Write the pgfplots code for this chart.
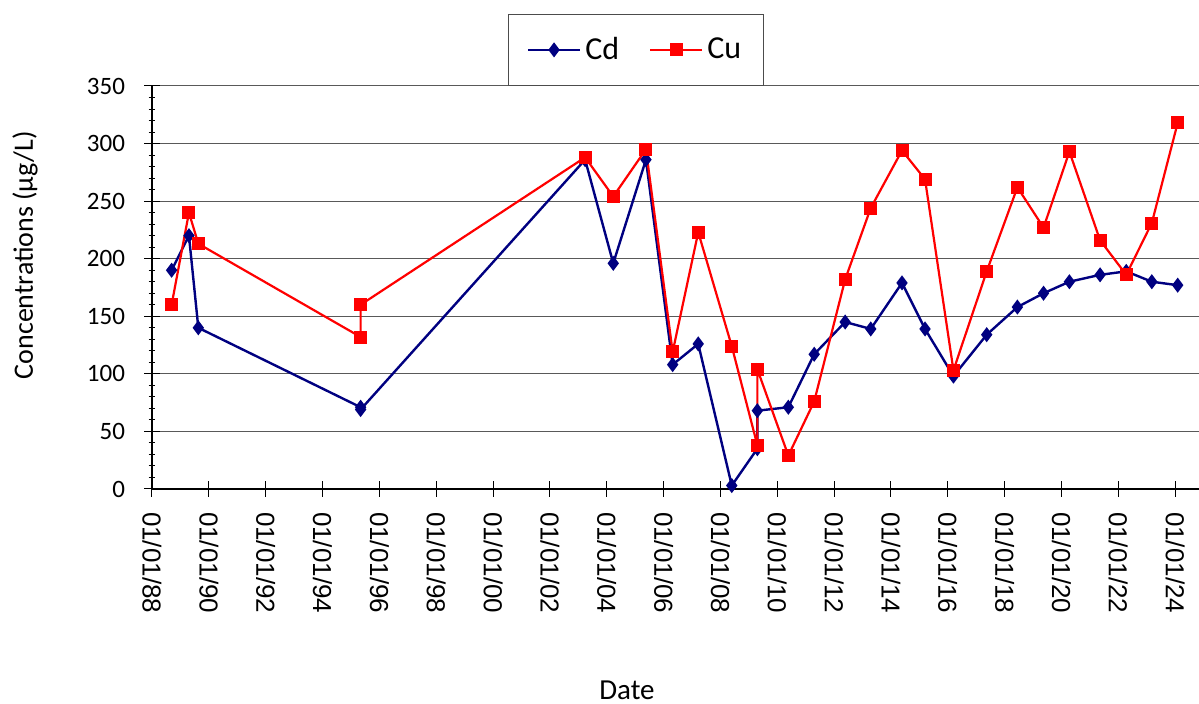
\documentclass[border=0pt]{standalone}
\usepackage{fontspec}
\setmainfont{Carlito}
\newfontfamily\arialfont{Liberation Sans}
\usepackage{pgfplots}
\pgfplotsset{compat=1.18}

\definecolor{cdblue}{RGB}{0,0,128}
\definecolor{cured}{RGB}{255,0,0}

\begin{document}
\begin{tikzpicture}
\path[use as bounding box] (0,0) rectangle (599.5pt,352pt);
\begin{axis}[
  at={(76pt,107.5pt)}, anchor=south west,
  width=523.5pt, height=201.5pt, scale only axis,
  xmin=1988, xmax=2024.84, ymin=0, ymax=350,
  axis lines*=left,
  axis line style={line width=0.6pt},
  /pgf/number format/assume math mode=true,
  xtick={1988,1990,...,2024},
  xticklabels={01/01/88,01/01/90,01/01/92,01/01/94,01/01/96,01/01/98,01/01/00,01/01/02,01/01/04,01/01/06,01/01/08,01/01/10,01/01/12,01/01/14,01/01/16,01/01/18,01/01/20,01/01/22,01/01/24},
  xticklabel style={rotate=-90, anchor=west, font=\arialfont\fontsize{13}{15}\selectfont, xshift=4pt},
  ytick={0,50,...,350},
  yticklabel style={font=\fontsize{12.5}{14}\selectfont, xshift=-6pt},
  minor x tick num=1, minor y tick num=4,
  tick align=center,
  major tick length=8pt, minor tick length=3.5pt,
  tick style={black, line width=0.5pt},
  ymajorgrids,
  major grid style={gray!70!black, line width=0.5pt},
  xlabel={Date},
  xlabel style={at={(axis description cs:0.4537,-0.4988)}, anchor=center, font=\fontsize{14.5}{16}\selectfont},
  ylabel={Concentrations (µg/L)},
  ylabel style={at={(axis description cs:-0.1213,0.58)}, anchor=center, rotate=0, font=\fontsize{14}{16}\selectfont},
  legend columns=2,
  legend style={at={(0.4623,1.0)}, anchor=south, draw=black!70, line width=0.5pt,
    font=\fontsize{16}{18}\selectfont, inner xsep=9pt, inner ysep=9.5pt,
    /tikz/every even column/.append style={column sep=13pt}},
  legend image code/.code={\draw[#1, mark repeat=2, mark phase=2] plot coordinates {(0pt,0pt) (13pt,0pt) (26pt,0pt)};},
]
\addplot[cdblue, line width=1.2pt, mark=diamond*, mark size=2.8pt, mark options={solid, fill=cdblue}] coordinates {
(1988.69,190) (1989.30,220) (1989.63,140) (1995.34,71) (1995.34,69)
(2003.24,286) (2004.23,196) (2005.38,286) (2006.32,108) (2007.22,126)
(2008.40,3) (2009.30,35) (2009.30,68) (2010.39,71) (2011.30,117)
(2012.39,145) (2013.29,139) (2014.39,179) (2015.20,139) (2016.20,98)
(2017.37,134) (2018.45,158) (2019.37,170) (2020.28,180) (2021.36,186)
(2022.28,189) (2023.18,180) (2024.09,177)
};
\addlegendentry{Cd}
\addplot[cured, line width=1.1pt, mark=square*, mark size=2.7pt, mark options={solid, fill=cured}] coordinates {
(1988.69,160) (1989.30,240) (1989.63,213) (1995.34,132) (1995.34,160)
(2003.24,288) (2004.23,254) (2005.38,295) (2006.32,119) (2007.22,223)
(2008.40,124) (2009.30,38) (2009.30,104) (2010.39,29) (2011.30,76)
(2012.39,182) (2013.29,244) (2014.39,294) (2015.20,269) (2016.20,103)
(2017.37,189) (2018.45,262) (2019.37,227) (2020.28,293) (2021.36,216)
(2022.28,186) (2023.18,231) (2024.09,318)
};
\addlegendentry{Cu}
\end{axis}
\end{tikzpicture}
\end{document}
